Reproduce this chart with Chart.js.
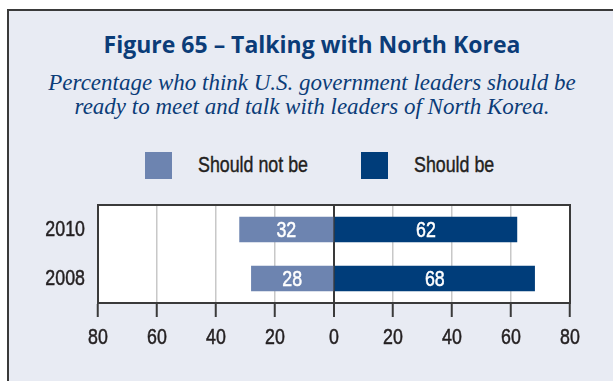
<!DOCTYPE html>
<html lang="en">
<head>
  <meta charset="UTF-8" />
  <title>Figure 65 – Talking with North Korea</title>
  <script src="https://cdn.jsdelivr.net/npm/chart.js"></script>
  <style>
    body { margin: 0; width: 613px; height: 381px; overflow: hidden; background: #fff; position: relative; }
    .panel { position: absolute; left: 7px; top: 9px; width: 640px; height: 400px; background: #e8ebf3;
             border-top: 2px solid #3a3a3a; border-left: 2px solid #3a3a3a; }
    .title { position: absolute; left: 0; width: 624px; top: 29px; text-align: center; color: #0b3c78;
             font: bold 23px 'Open Sans', sans-serif; line-height: 30px; }
    .subtitle { position: absolute; left: 0; width: 624px; top: 71px; text-align: center; color: #0b3c78;
                font: italic 23px 'Liberation Serif', serif; line-height: 24px; }
    .legend-box { position: absolute; top: 152px; width: 27px; height: 27px; }
    .legend-text { position: absolute; top: 152px; line-height: 27px; color: #231f20; white-space: nowrap;
                   font: 22px 'Liberation Sans', sans-serif; transform: scaleX(0.81); transform-origin: left center;
                   -webkit-text-stroke: 0.4px #231f20; }
    #chart { position: absolute; left: 0; top: 195px; }
  </style>
</head>
<body>
  <div class="panel"></div>
  <div class="title">Figure 65 – Talking with North Korea</div>
  <div class="subtitle">Percentage who think U.S. government leaders should be<br>ready to meet and talk with leaders of North Korea.</div>
  <div id="legend"></div>
  <canvas id="chart" width="613" height="165"></canvas>

  <script>
    const years = ['2010', '2008'];
    const seriesNames = ['Should not be', 'Should be'];
    const shouldNotBe = [32, 28];
    const shouldBe = [62, 68];
    const axisTicks = [-80, -60, -40, -20, 0, 20, 40, 60, 80];

    const lightBlue = '#6d84b0';
    const darkBlue = '#003d7a';
    const sans = "'Liberation Sans', sans-serif";
    const squeeze = 0.81; // no condensed face installed, so text is narrowed by hand

    // legend in html, one box + label per series
    const legend = document.getElementById('legend');
    const legendPos = [{ box: 145, text: 198, color: lightBlue }, { box: 361, text: 414, color: darkBlue }];
    seriesNames.forEach((name, i) => {
      const box = document.createElement('div');
      box.className = 'legend-box';
      box.style.left = legendPos[i].box + 'px';
      box.style.background = legendPos[i].color;
      const txt = document.createElement('div');
      txt.className = 'legend-text';
      txt.style.left = legendPos[i].text + 'px';
      txt.textContent = name;
      legend.appendChild(box);
      legend.appendChild(txt);
    });

    // narrow (and thicken a bit) every label chart.js writes on the canvas
    const condensed = {
      id: 'condensed',
      beforeDraw(chart) {
        const ctx = chart.ctx;
        if (ctx._squeezed) return;
        const fill = ctx.fillText.bind(ctx);
        const stroke = ctx.strokeText.bind(ctx);
        ctx.fillText = function (text, x, y, maxWidth) {
          this.save();
          this.translate(x, y);
          this.scale(squeeze, 1);
          const mw = maxWidth === undefined ? undefined : maxWidth / squeeze;
          if (mw === undefined) fill(text, 0, 0); else fill(text, 0, 0, mw);
          this.strokeStyle = this.fillStyle;
          this.lineWidth = 0.5;
          if (mw === undefined) stroke(text, 0, 0); else stroke(text, 0, 0, mw);
          this.restore();
        };
        ctx._squeezed = true;
      }
    };

    // white plot background and dark frame
    const frame = {
      id: 'frame',
      beforeDraw(chart) {
        const a = chart.chartArea, ctx = chart.ctx;
        ctx.save();
        ctx.fillStyle = '#fff';
        ctx.fillRect(a.left, a.top, a.right - a.left, a.bottom - a.top);
        ctx.restore();
      },
      afterDraw(chart) {
        const a = chart.chartArea, ctx = chart.ctx;
        ctx.save();
        ctx.strokeStyle = '#3a3a3a';
        ctx.lineWidth = 2;
        ctx.strokeRect(a.left, a.top, a.right - a.left, a.bottom - a.top);
        ctx.restore();
      }
    };

    // value labels in the middle of each bar
    const barValues = {
      id: 'barValues',
      afterDatasetsDraw(chart) {
        const ctx = chart.ctx;
        ctx.save();
        ctx.fillStyle = '#fff';
        ctx.font = '22px ' + sans;
        ctx.textAlign = 'center';
        ctx.textBaseline = 'middle';
        chart.data.datasets.forEach((ds, i) => {
          chart.getDatasetMeta(i).data.forEach((bar, j) => {
            ctx.fillText(Math.abs(ds.data[j]), (bar.x + bar.base) / 2, bar.y + 1);
          });
        });
        ctx.restore();
      }
    };

    const noPad = s => { s.paddingTop = 0; s.paddingBottom = 0; s.paddingLeft = 0; s.paddingRight = 0; };

    new Chart(document.getElementById('chart'), {
      type: 'bar',
      data: {
        labels: years,
        datasets: [
          { label: seriesNames[0], data: shouldNotBe.map(v => -v), backgroundColor: lightBlue },
          { label: seriesNames[1], data: shouldBe, backgroundColor: darkBlue }
        ]
      },
      options: {
        indexAxis: 'y',
        responsive: false,
        animation: false,
        devicePixelRatio: 1,
        layout: { padding: { top: 10, right: 43, left: 0, bottom: 0 } },
        datasets: { bar: { barThickness: 25 } },
        plugins: { legend: { display: false }, tooltip: { enabled: false } },
        scales: {
          x: {
            stacked: true,
            min: -80,
            max: 80,
            afterBuildTicks: s => { s.ticks = axisTicks.map(v => ({ value: v })); },
            afterFit: s => { s.height = 57; noPad(s); },
            ticks: { callback: v => Math.abs(v), color: '#231f20', font: { family: sans, size: 22 }, padding: 8 },
            grid: {
              color: c => (c.tick && c.tick.value === 0) ? '#3a3a3a' : '#c8c8c8',
              lineWidth: c => (c.tick && c.tick.value === 0) ? 2 : 1.5,
              tickColor: '#3a3a3a',
              tickWidth: 2,
              tickLength: 14
            },
            border: { display: true, color: '#3a3a3a', width: 2 }
          },
          y: {
            stacked: true,
            afterFit: s => { s.width = 98; noPad(s); },
            ticks: { color: '#231f20', font: { family: sans, size: 22 }, padding: 13 },
            grid: { display: false, drawTicks: false },
            border: { display: true, color: '#3a3a3a', width: 2 }
          }
        }
      },
      plugins: [condensed, frame, barValues]
    });
  </script>
</body>
</html>
